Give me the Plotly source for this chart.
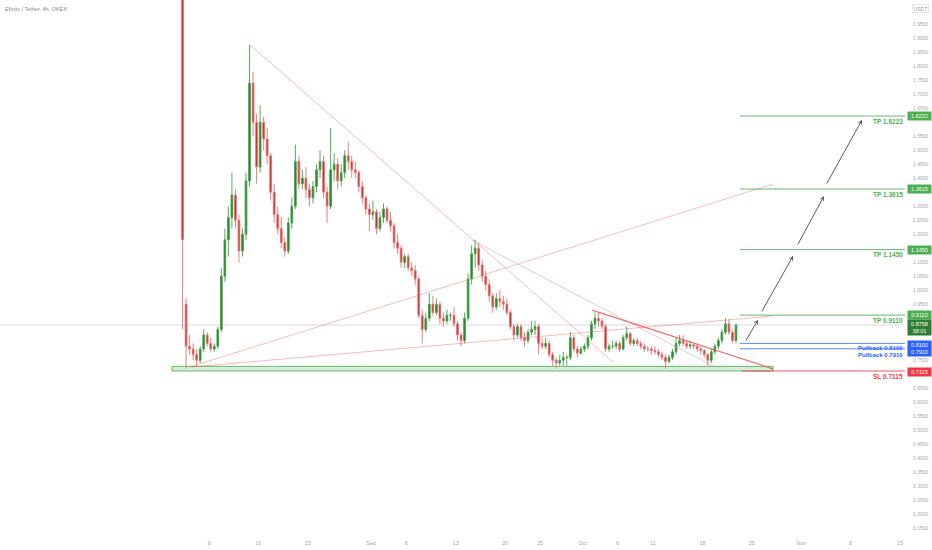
import plotly.graph_objects as go
import pandas as pd

# ---------------- data (12h candles) ----------------
opens = [2.60, 0.95, 0.80, 0.79, 0.77, 0.75, 0.79, 0.84, 0.81, 0.79,
         0.80, 0.86, 1.05, 1.18, 1.26, 1.34, 1.25, 1.14, 1.20, 1.39,
         1.74, 1.60, 1.44, 1.60, 1.54, 1.48, 1.35, 1.27, 1.22, 1.17,
         1.14, 1.24, 1.30, 1.46, 1.38, 1.40, 1.36, 1.33, 1.37, 1.43,
         1.46, 1.35, 1.30, 1.43, 1.45, 1.39, 1.42, 1.48, 1.46, 1.43,
         1.42, 1.37, 1.33, 1.29, 1.27, 1.28, 1.22, 1.26, 1.29, 1.25,
         1.23, 1.17, 1.15, 1.10, 1.12, 1.08, 1.07, 1.04, 0.91, 0.86,
         0.90, 0.95, 0.92, 0.95, 0.90, 0.89, 0.91, 0.91, 0.88, 0.84,
         0.82, 0.90, 1.04, 1.13, 1.15, 1.09, 1.05, 1.02, 0.98, 0.94,
         0.97, 0.96, 0.95, 0.92, 0.87, 0.84, 0.87, 0.83, 0.82, 0.85,
         0.86, 0.87, 0.81, 0.80, 0.81, 0.77, 0.75, 0.74, 0.75, 0.76,
         0.76, 0.83, 0.79, 0.775, 0.79, 0.80, 0.83, 0.88, 0.90, 0.89,
         0.87, 0.79, 0.80, 0.80, 0.81, 0.79, 0.83, 0.845, 0.81, 0.82,
         0.81, 0.80, 0.79, 0.79, 0.785, 0.78, 0.77, 0.76, 0.745, 0.76,
         0.78, 0.81, 0.82, 0.81, 0.80, 0.805, 0.80, 0.79, 0.785, 0.77,
         0.75, 0.78, 0.80, 0.82, 0.85, 0.88, 0.85, 0.82]
highs = [2.70, 0.97, 0.84, 0.81, 0.79, 0.80, 0.86, 0.85, 0.83, 0.81,
         0.87, 1.08, 1.22, 1.30, 1.42, 1.36, 1.27, 1.22, 1.42, 1.876,
         1.78, 1.63, 1.66, 1.62, 1.58, 1.49, 1.38, 1.30, 1.26, 1.19,
         1.26, 1.33, 1.52, 1.48, 1.43, 1.44, 1.38, 1.39, 1.45, 1.50,
         1.48, 1.37, 1.58, 1.49, 1.47, 1.45, 1.50, 1.53, 1.48, 1.46,
         1.43, 1.39, 1.34, 1.31, 1.32, 1.29, 1.28, 1.31, 1.30, 1.28,
         1.24, 1.20, 1.16, 1.13, 1.13, 1.10, 1.09, 1.05, 0.93, 0.92,
         0.99, 0.98, 0.97, 0.96, 0.92, 0.93, 0.92, 0.94, 0.89, 0.85,
         0.92, 1.06, 1.16, 1.18, 1.17, 1.11, 1.07, 1.04, 0.99, 0.99,
         1.00, 0.98, 0.97, 0.93, 0.88, 0.88, 0.88, 0.85, 0.86, 0.89,
         0.89, 0.88, 0.83, 0.83, 0.82, 0.78, 0.76, 0.77, 0.78, 0.77,
         0.85, 0.84, 0.80, 0.80, 0.81, 0.84, 0.89, 0.92, 0.92, 0.90,
         0.88, 0.81, 0.82, 0.82, 0.82, 0.84, 0.87, 0.85, 0.83, 0.83,
         0.82, 0.81, 0.80, 0.80, 0.80, 0.79, 0.78, 0.77, 0.77, 0.79,
         0.83, 0.84, 0.84, 0.82, 0.82, 0.81, 0.81, 0.80, 0.79, 0.775,
         0.79, 0.81, 0.83, 0.86, 0.90, 0.897, 0.86, 0.88]
lows = [0.86, 0.72, 0.77, 0.75, 0.73, 0.74, 0.78, 0.80, 0.78, 0.78,
        0.79, 0.85, 1.03, 1.12, 1.22, 1.22, 1.10, 1.12, 1.18, 1.37,
        1.55, 1.38, 1.42, 1.50, 1.45, 1.32, 1.24, 1.20, 1.15, 1.12,
        1.13, 1.22, 1.29, 1.36, 1.36, 1.33, 1.30, 1.31, 1.35, 1.40,
        1.33, 1.24, 1.29, 1.39, 1.36, 1.37, 1.40, 1.43, 1.40, 1.40,
        1.35, 1.31, 1.27, 1.21, 1.25, 1.20, 1.21, 1.24, 1.24, 1.21,
        1.15, 1.13, 1.08, 1.08, 1.07, 1.05, 1.02, 0.90, 0.81, 0.85,
        0.89, 0.91, 0.91, 0.88, 0.87, 0.88, 0.89, 0.87, 0.82, 0.80,
        0.81, 0.89, 1.02, 1.08, 1.07, 1.03, 1.00, 0.96, 0.92, 0.93,
        0.94, 0.93, 0.91, 0.86, 0.82, 0.83, 0.82, 0.80, 0.81, 0.84,
        0.84, 0.77, 0.79, 0.79, 0.76, 0.73, 0.72, 0.73, 0.73, 0.73,
        0.75, 0.78, 0.76, 0.77, 0.78, 0.79, 0.82, 0.86, 0.87, 0.86,
        0.78, 0.78, 0.79, 0.79, 0.78, 0.785, 0.82, 0.80, 0.80, 0.80,
        0.79, 0.78, 0.78, 0.77, 0.77, 0.76, 0.75, 0.72, 0.74, 0.75,
        0.77, 0.80, 0.80, 0.79, 0.79, 0.79, 0.78, 0.77, 0.76, 0.73,
        0.74, 0.77, 0.79, 0.81, 0.84, 0.84, 0.81, 0.81]
closes = [1.18, 0.80, 0.79, 0.77, 0.75, 0.79, 0.84, 0.81, 0.79, 0.80,
          0.86, 1.05, 1.18, 1.26, 1.34, 1.25, 1.14, 1.20, 1.39, 1.74,
          1.60, 1.44, 1.60, 1.54, 1.48, 1.35, 1.27, 1.22, 1.17, 1.14,
          1.24, 1.30, 1.46, 1.38, 1.40, 1.36, 1.33, 1.37, 1.43, 1.46,
          1.35, 1.30, 1.43, 1.45, 1.39, 1.42, 1.48, 1.46, 1.43, 1.42,
          1.37, 1.33, 1.29, 1.27, 1.28, 1.22, 1.26, 1.29, 1.25, 1.23,
          1.17, 1.15, 1.10, 1.12, 1.08, 1.07, 1.04, 0.91, 0.86, 0.90,
          0.95, 0.92, 0.95, 0.90, 0.89, 0.91, 0.91, 0.88, 0.84, 0.82,
          0.90, 1.04, 1.13, 1.15, 1.09, 1.05, 1.02, 0.98, 0.94, 0.97,
          0.96, 0.95, 0.92, 0.87, 0.84, 0.87, 0.83, 0.82, 0.85, 0.86,
          0.87, 0.81, 0.80, 0.81, 0.77, 0.75, 0.74, 0.75, 0.76, 0.76,
          0.83, 0.79, 0.775, 0.79, 0.80, 0.83, 0.88, 0.90, 0.89, 0.87,
          0.79, 0.80, 0.80, 0.81, 0.79, 0.83, 0.845, 0.81, 0.82, 0.81,
          0.80, 0.79, 0.79, 0.785, 0.78, 0.77, 0.76, 0.745, 0.76, 0.78,
          0.81, 0.82, 0.81, 0.80, 0.805, 0.80, 0.79, 0.785, 0.77, 0.75,
          0.78, 0.80, 0.82, 0.85, 0.88, 0.85, 0.82, 0.8758]

tp_levels = [1.6222, 1.3615, 1.1450, 0.9110]
pullback_levels = [0.8100, 0.7910]
sl_level = 0.7115
last_price = 0.8758
countdown = "38:01"

x_tick_dates = ["2021-08-09", "2021-08-16", "2021-08-23", "2021-09-01", "2021-09-06",
                "2021-09-13", "2021-09-20", "2021-09-25", "2021-10-01", "2021-10-06",
                "2021-10-11", "2021-10-18", "2021-10-25", "2021-11-01", "2021-11-08",
                "2021-11-15"]
x_tick_text = ["9", "16", "23", "Sep", "6", "13", "20", "25", "Oct", "6", "11", "18",
               "25", "Nov", "8", "15"]
# price-scale labels that are not covered by the coloured price boxes
y_tick_vals = [0.15, 0.20, 0.25, 0.30, 0.35, 0.40, 0.45, 0.50, 0.55, 0.60, 0.65,
               0.75, 0.95, 1.00, 1.05, 1.10, 1.20, 1.25, 1.30, 1.40, 1.45, 1.50,
               1.55, 1.65, 1.70, 1.75, 1.80, 1.85, 1.90, 1.95]
y_tick_text = ["%.4f" % v for v in y_tick_vals]

# ---------------- layout geometry ----------------
W, H = 932, 550
ML, MR, MT, MB = 0, 26, 0, 12
PX_PER_DAY = 7.05
AUG9_PX = 209
PX_PER_UNIT = 280.0
REF_Y_PX, REF_V = 189, 1.3615

BASE = pd.Timestamp("2021-08-09")


def t(d):
    return BASE + pd.Timedelta(days=d)


plot_w = W - ML - MR
plot_h = H - MT - MB
x_range = [t(-AUG9_PX / PX_PER_DAY), t((plot_w - AUG9_PX) / PX_PER_DAY)]
y_range = [REF_V - (plot_h - REF_Y_PX) / PX_PER_UNIT, REF_V + REF_Y_PX / PX_PER_UNIT]

dates = pd.date_range("2021-08-05 06:00", periods=len(closes), freq="12h")

GREEN = "#4caf50"
DKGREEN = "#2e7d32"
BLUE = "#2962ff"
RED = "#f23645"
FONT = "Liberation Sans, Arial, sans-serif"

fig = go.Figure()
fig.add_trace(go.Candlestick(
    x=dates, open=opens, high=highs, low=lows, close=closes,
    increasing=dict(line=dict(color="#43a047", width=0.9), fillcolor="#2e7d32"),
    decreasing=dict(line=dict(color="#e57373", width=0.9), fillcolor="#c62828"),
    whiskerwidth=0, showlegend=False, hoverinfo="skip"))

shapes = []
# support zone
shapes.append(dict(type="rect", xref="x", yref="y", x0=t(-5.25), x1=t(80.0),
                   y0=sl_level, y1=0.728, fillcolor="rgba(76,175,80,0.22)",
                   line=dict(color="rgba(76,175,80,0.85)", width=1), layer="below"))
# last price line
shapes.append(dict(type="line", xref="paper", yref="y", x0=0, x1=1, y0=last_price,
                   y1=last_price, line=dict(color="rgba(150,150,150,0.35)", width=1)))
# trend lines (days from Aug 9, price)
trend_lines = [
    ((5.82, 1.876), (57.3, 0.744), "rgba(239,83,80,0.40)", 1),
    ((37.3, 1.179), (71.5, 0.729), "rgba(190,140,140,0.45)", 1),
    ((54.33, 0.929), (80.0, 0.719), "rgba(239,83,80,0.85)", 1.2),
    ((-2.7, 0.726), (80.0, 1.379), "rgba(239,83,80,0.40)", 1),
    ((-2.4, 0.726), (80.0, 0.908), "rgba(239,83,80,0.40)", 1),
]
for (d0, v0), (d1, v1), col, wd in trend_lines:
    shapes.append(dict(type="line", xref="x", yref="y", x0=t(d0), y0=v0, x1=t(d1), y1=v1,
                       line=dict(color=col, width=wd)))

lvl_x0, lvl_x1 = t(75.3), t(98.72)
for v in tp_levels:
    shapes.append(dict(type="line", xref="x", yref="y", x0=lvl_x0, x1=lvl_x1, y0=v, y1=v,
                       line=dict(color="rgba(76,175,80,0.85)", width=1)))
for v in pullback_levels:
    shapes.append(dict(type="line", xref="x", yref="y", x0=lvl_x0, x1=lvl_x1, y0=v, y1=v,
                       line=dict(color="rgba(41,98,255,0.75)", width=1)))
shapes.append(dict(type="line", xref="x", yref="y", x0=t(75.6), x1=lvl_x1, y0=sl_level,
                   y1=sl_level, line=dict(color="rgba(242,54,69,0.85)", width=1)))

ann = []
# level texts
for v in tp_levels:
    ann.append(dict(x=lvl_x1, y=v, xref="x", yref="y", text="<b>TP %.4f</b>" % v,
                    showarrow=False, xanchor="right", yanchor="middle", yshift=-5,
                    font=dict(color=GREEN, size=6.5, family=FONT)))
for v, ys in zip(pullback_levels, [-4.5, -6.5]):
    ann.append(dict(x=lvl_x1, y=v, xref="x", yref="y", text="<b>Pullback %.4f</b>" % v,
                    showarrow=False, xanchor="right", yanchor="middle", yshift=ys,
                    font=dict(color=BLUE, size=6, family=FONT)))
ann.append(dict(x=lvl_x1, y=sl_level, xref="x", yref="y", text="<b>SL %.4f</b>" % sl_level,
                showarrow=False, xanchor="right", yanchor="middle", yshift=-5,
                font=dict(color=RED, size=6.5, family=FONT)))


def price_box(v, color, text=None, yshift=0):
    return dict(x=1, xref="paper", y=v, yref="y", text=text or "%.4f" % v,
                showarrow=False, xanchor="left", yanchor="middle", xshift=1, yshift=yshift,
                bgcolor=color, font=dict(color="white", size=5.5, family=FONT),
                width=21, borderpad=1, align="center")


for v in tp_levels:
    ann.append(price_box(v, GREEN))
ann.append(price_box(last_price, DKGREEN, "%.4f<br>%s" % (last_price, countdown), yshift=-2))
ann.append(price_box(pullback_levels[0], BLUE, yshift=-1.5))
ann.append(price_box(pullback_levels[1], BLUE, yshift=-3.5))
ann.append(price_box(sl_level, RED, yshift=-1))

# projection arrows: (tail days, tail price) -> (head days, head price)
arrows = [((76.03, 0.815), (77.87, 0.894)),
          ((78.30, 0.919), (82.84, 1.122)),
          ((83.40, 1.158), (87.23, 1.336)),
          ((87.52, 1.376), (92.62, 1.608))]
for (d0, v0), (d1, v1) in arrows:
    ann.append(dict(x=t(d1), y=v1, ax=t(d0), ay=v0, xref="x", yref="y", axref="x", ayref="y",
                    showarrow=True, arrowhead=5, arrowsize=0.9, arrowwidth=0.8,
                    arrowcolor="#333333", text=""))

# title and unit
ann.append(dict(x=0, xref="paper", y=1, yref="paper", xanchor="left", yanchor="top",
                xshift=3, yshift=-4, showarrow=False, text="Efinity / Tether, 4h, OKEX",
                font=dict(color="#8a8a8a", size=5.5, family=FONT)))
ann.append(dict(x=1, xref="paper", y=1, yref="paper", xanchor="left", yanchor="top",
                xshift=6, yshift=-4, showarrow=False, text="USDT",
                bordercolor="#d6d6d6", borderwidth=0.6, borderpad=1,
                font=dict(color="#9a9a9a", size=5, family=FONT)))

fig.update_layout(
    width=W, height=H, margin=dict(l=ML, r=MR, t=MT, b=MB),
    paper_bgcolor="white", plot_bgcolor="white",
    shapes=shapes, annotations=ann, showlegend=False,
    font=dict(family=FONT),
    xaxis=dict(type="date", range=x_range, rangeslider=dict(visible=False),
               showgrid=False, zeroline=False, showline=False, automargin=False,
               tickvals=x_tick_dates, ticktext=x_tick_text,
               tickfont=dict(size=5.5, color="#a3a6af", family=FONT), ticks=""),
    yaxis=dict(range=y_range, side="right", showgrid=False, zeroline=False, showline=False,
               automargin=False,
               tickvals=y_tick_vals, ticktext=y_tick_text, ticks="",
               ticklabelstandoff=6,
               tickfont=dict(size=5, color="#a3a6af", family=FONT)),
)

fig.write_html("out.html", config={"displayModeBar": False},
               post_script="document.body.style.margin='0';"
                           "document.body.style.overflow='hidden';")
